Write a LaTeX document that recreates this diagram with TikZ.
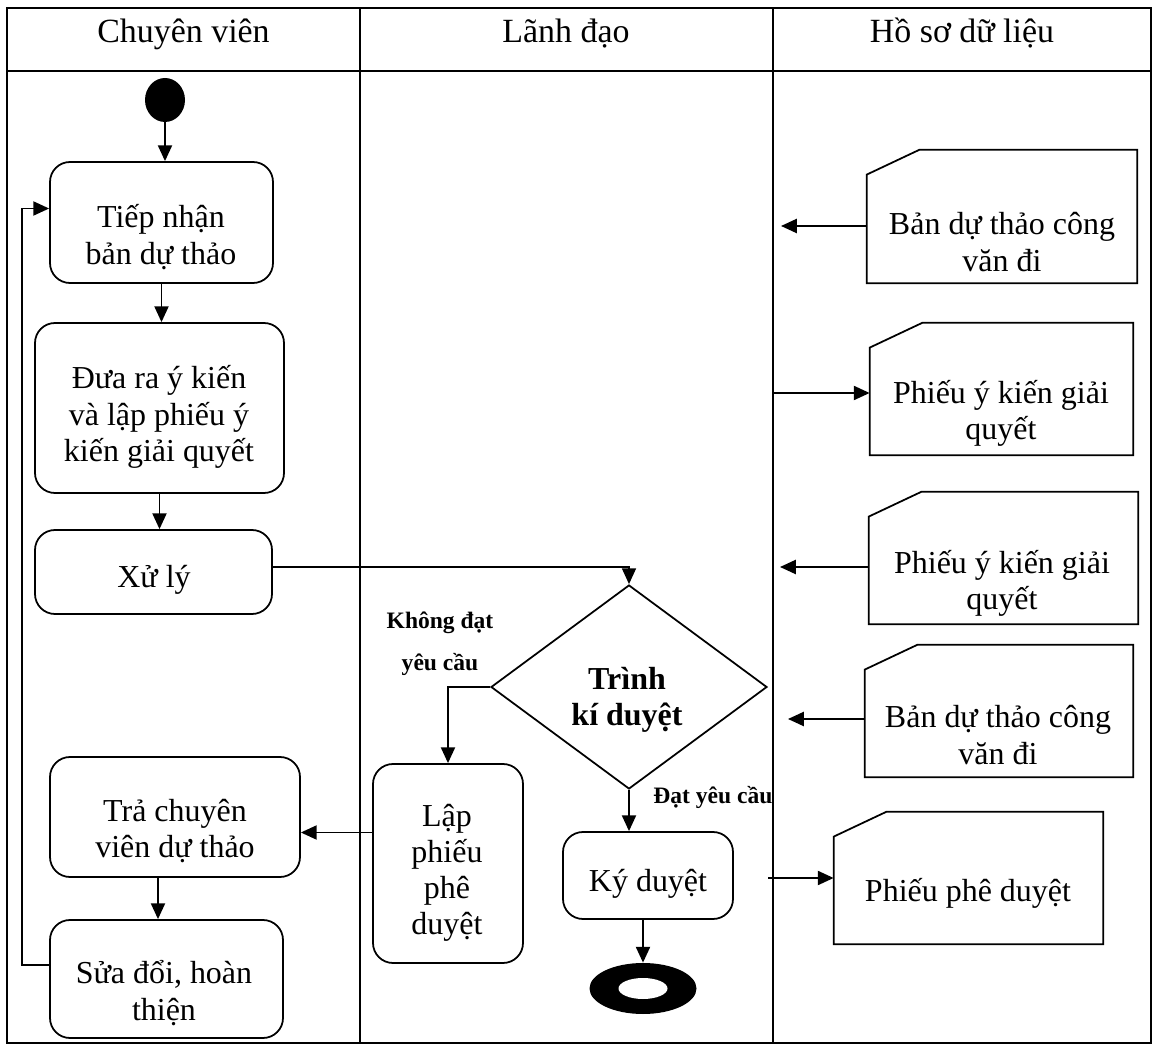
\documentclass[tikz,border=0pt]{standalone}
\usepackage{fontspec}
\setmainfont{Liberation Serif}
\usetikzlibrary{shapes.geometric,arrows.meta,calc}
% outline of a data document: rectangle with a cut top-left corner
\newcommand\docoutline[1]{%
  \draw[line width=1pt] ($(#1.north west)+(0,25)$) -- ($(#1.north west)+(53,0)$)
    -- (#1.north east) -- (#1.south east) -- (#1.south west) -- cycle;}
\begin{document}
\begin{tikzpicture}[x=0.02cm,y=-0.02cm,
  sz/.style 2 args={minimum width=#1*0.02cm,minimum height=#2*0.02cm},
  frame/.style={line width=1.6pt},
  act/.style={draw,line width=1pt,rounded corners=0.4cm,inner sep=0pt},
  txt/.style={font=\fontsize{18.2}{20.6}\selectfont,align=center,inner sep=0pt},
  hdr/.style={font=\fontsize{19.3}{22}\selectfont,inner sep=0pt,anchor=base},
  lbl/.style={font=\fontsize{13.4}{24}\selectfont\bfseries,align=center,inner sep=0pt},
  arr/.style={line width=1.1pt,-{Triangle[length=9pt,width=8pt]}},
  doc/.style={inner sep=0pt},
]
\fill[white] (0,0) rectangle (1154,1047);

% swimlane frame
\draw[frame] (7,8) rectangle (1151,1043);
\draw[frame] (7,71) -- (1151,71);
\draw[frame] (360,8) -- (360,1043);
\draw[frame] (773,8) -- (773,1043);
\node[hdr] (h1) at (183.5,43) {Chuyên viên};
\node[hdr] (h2) at (566,43) {Lãnh đạo};
\node[hdr] (h3) at (962,43) {Hồ sơ dữ liệu};

% start / end
\node[ellipse,fill=black,sz={40}{44},inner sep=0pt] (start) at (165,100) {};
\node[ellipse,fill=black,sz={107}{51},inner sep=0pt] (end) at (643,988.5) {};
\node[ellipse,fill=white,sz={49}{21},inner sep=0pt] (endhole) at (end) {};

% activities
\node[act,sz={223}{121}] (tiep) at (161.5,222.5) {};
\node[txt] (ttiep) at (161,237) {Tiếp nhận\\bản dự thảo};
\node[act,sz={249}{170}] (dua) at (159.5,408) {};
\node[txt] (tdua) at (159,417) {Đưa ra ý kiến\\và lập phiếu ý\\kiến giải quyết};
\node[act,sz={237}{84}] (xuly) at (153.5,572) {};
\node[txt,anchor=base] (txuly) at (154,588) {Xử lý};
\node[act,sz={250}{120}] (tra) at (175,817) {};
\node[txt] (ttra) at (175,831) {Trả chuyên\\viên dự thảo};
\node[act,sz={233}{118}] (sua) at (166.5,979) {};
\node[txt] (tsua) at (164,993) {Sửa đổi, hoàn\\thiện};
\node[act,sz={150}{199}] (lap) at (448,863.5) {};
\node[txt] (tlap) at (447,873) {Lập\\phiếu\\phê\\duyệt};
\node[act,sz={170}{87}] (ky) at (648,875.5) {};
\node[txt,anchor=base] (tky) at (648,891) {Ký duyệt};

% decision
\node[diamond,draw,line width=1pt,sz={276}{204},inner sep=0pt] (dia) at (629,687) {};
\node[txt,font=\fontsize{18.2}{20.6}\selectfont\bfseries] (tdia) at (627,700) {Trình\\kí duyệt};
\node[lbl] (lno) at (440,644) {Không đạt\\yêu cầu};
\node[lbl,anchor=base west] (lyes) at (653,804) {Đạt yêu cầu};

% data documents
\node[doc,sz={270}{133}] (d1) at (1002,216.5) {};
\node[doc,sz={263}{132}] (d2) at (1001.5,389) {};
\node[doc,sz={269}{132}] (d3) at (1003.5,558) {};
\node[doc,sz={268}{132}] (d4) at (999,711) {};
\node[doc,sz={269}{132}] (d5) at (968.5,878) {};
\docoutline{d1}\docoutline{d2}\docoutline{d3}\docoutline{d4}\docoutline{d5}
\node[txt] (td1) at (1002,242) {Bản dự thảo công\\văn đi};
\node[txt] (td2) at (1001,413) {Phiếu ý kiến giải\\quyết};
\node[txt] (td3) at (1002,583) {Phiếu ý kiến giải\\quyết};
\node[txt] (td4) at (998,735) {Bản dự thảo công\\văn đi};
\node[txt,anchor=base] (td5) at (968,901) {Phiếu phê duyệt};

% flow
\draw[arr] (start.south) -- (start.south |- tiep.north);
\draw[arr] (tiep.south) -- (tiep.south |- dua.north);
\draw[arr] (dua.south) -- (dua.south |- xuly.north);
\draw[arr,line width=0.8pt] ($(xuly.east)+(0,-5)$) -| (dia.north);
\draw[arr] (dia.west) -| (lap.north);
\draw[arr] (dia.south) -- (dia.south |- ky.north);
\draw[arr] (end.north |- ky.south) -- (end.north);
\coordinate (lt) at ($(lap.west)+(0,-31)$);
\draw[arr] (lt) -- (lt -| tra.east);
\draw[arr] (tra.south -| 158,0) -- (sua.north -| 158,0);
\draw[arr] ($(sua.west)+(0,-14)$) -- ++(-27,0) |- ($(tiep.west)+(0,-14)$);

% document links
\coordinate (e1) at (781,226);
\draw[arr] (d1.west |- e1) -- (e1);
\coordinate (s2) at (773,393);
\draw[arr] (s2) -- (s2 -| d2.west);
\coordinate (e3) at (780,567);
\draw[arr] (d3.west |- e3) -- (e3);
\coordinate (e4) at (788,719);
\draw[arr] (d4.west |- e4) -- (e4);
\coordinate (s5) at (768,878);
\draw[arr] (s5) -- (s5 -| d5.west);
\end{tikzpicture}
\end{document}
